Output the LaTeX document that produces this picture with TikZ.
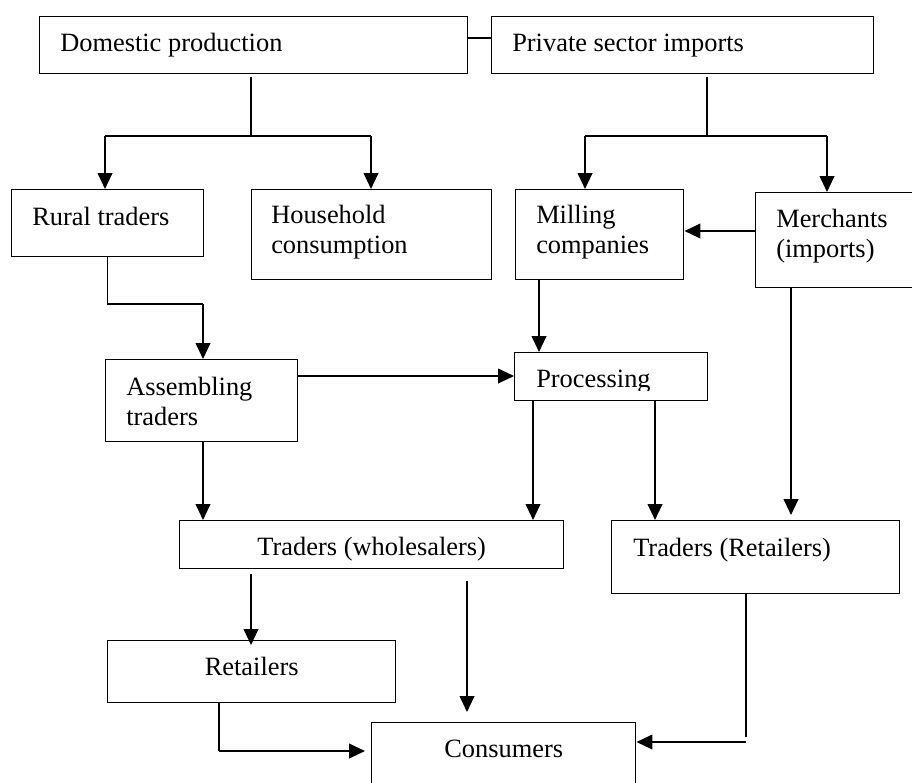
\documentclass[tikz,border=0pt]{standalone}
\usepackage{fontspec}
\setmainfont{Liberation Serif}
\usetikzlibrary{arrows.meta,calc}
\begin{document}
\begin{tikzpicture}[x=0.75pt,y=-0.75pt,
  box/.style={draw,line width=1.1pt,inner sep=0pt,anchor=north west},
  sz/.style 2 args={minimum width=#1*0.75pt,minimum height=#2*0.75pt},
  lbl/.style={inner sep=0pt,anchor=base west,font=\fontsize{19.8pt}{22.5pt}\selectfont},
  clbl/.style={lbl,anchor=base},
  thinline/.style={line width=1pt},
  flow/.style={line width=1.5pt,-{Triangle[length=12pt,width=11pt]}},
]
\useasboundingbox (0,0) rectangle (912,782);
\fill[white] (0,0) rectangle (912,782);
\clip (0,0) rectangle (912,782);

% boxes
\node[box,sz={428}{57}]  (dom)   at (39,16)   {};
\node[box,sz={382}{57}]  (priv)  at (491,16)  {};
\node[box,sz={192}{67}]  (rural) at (11,189)  {};
\node[box,sz={240}{90}]  (house) at (251,189) {};
\node[box,sz={168}{90}]  (mill)  at (515,189) {};
\node[box,sz={170}{95}]  (merch) at (755,192) {};
\node[box,sz={192}{82}]  (asm)   at (105,359) {};
\node[box,sz={193}{48}]  (proc)  at (514,352) {};
\node[box,sz={384}{48}]  (whole) at (179,520) {};
\node[box,sz={288}{73}]  (tret)  at (611,520) {};
\node[box,sz={288}{62}]  (ret)   at (107,640) {};
\node[box,sz={264}{80}]  (cons)  at (371,722) {};

% labels
\node[lbl] (dom-l)   at ($(dom.north west)+(21,35)$)   {Domestic production};
\node[lbl] (priv-l)  at ($(priv.north west)+(21,35)$)  {Private sector imports};
\node[lbl] (rural-l) at ($(rural.north west)+(21,36)$) {Rural traders};
\node[lbl] (house-l) at ($(house.north west)+(20,34)$) {\parbox[t]{200pt}{Household\\consumption}};
\node[lbl] (mill-l)  at ($(mill.north west)+(21,34)$)  {\parbox[t]{140pt}{Milling\\companies}};
\node[lbl] (merch-l) at ($(merch.north west)+(21,35)$) {\parbox[t]{140pt}{Merchants\\(imports)}};
\node[lbl] (asm-l)   at ($(asm.north west)+(21,36)$)   {\parbox[t]{140pt}{Assembling\\traders}};
% the text frame of this box cuts the descender off
\begin{scope}
  \clip (proc.north west) rectangle (proc.east |- 0,390);
  \node[lbl] (proc-l) at ($(proc.north west)+(22,35)$) {Processing};
\end{scope}
\node[clbl] (whole-l) at ($(whole.north)+(0,35)$)      {Traders (wholesalers)};
\node[lbl] (tret-l)  at ($(tret.north west)+(22,36)$)  {Traders (Retailers)};
\node[clbl] (ret-l)  at ($(ret.north)+(0,35)$)         {Retailers};
\node[clbl] (cons-l) at ($(cons.north)+(0,35)$)        {Consumers};

% link between the two sources
\draw[thinline] (dom.east |- 0,38) -- (priv.west |- 0,38);

% domestic production branches
\coordinate (dsplit) at (251,136);
\draw[thinline,shorten <=2.25pt] (dom.south -| dsplit) -- (dsplit);
\draw[thinline] (dsplit -| 105,0) -- (dsplit -| 371,0);
\draw[flow] (dsplit -| 105,0) -- (rural.north -| 105,0);
\draw[flow] (dsplit -| 371,0) -- (house.north -| 371,0);

% private imports branches
\coordinate (psplit) at (707,136);
\draw[thinline,shorten <=2.25pt] (priv.south -| psplit) -- (psplit);
\draw[thinline] (psplit -| 585,0) -- (psplit -| 827,0);
\draw[flow] (psplit -| 585,0) -- (mill.north -| 585,0);
\draw[flow] (psplit -| 827,0) -- (merch.north -| 827,0);

% merchants to milling
\draw[flow] (merch.west |- 0,231) -- (mill.east |- 0,231);

% rural traders to assembling traders
\coordinate (rbend) at (203,304);
\draw[thinline] (rural.south) |- (rbend);
\draw[flow] (rbend) -- (asm.north -| rbend);

% into processing
\draw[flow] (asm.east |- 0,376) -- (proc.west |- 0,376);
\draw[flow] (mill.south -| 539,0) -- (proc.north -| 539,0);

% to the trader level
\draw[flow,shorten >=3.75pt] (merch.south -| 791,0) -- (tret.north -| 791,0);
\draw[flow] (asm.south -| 203,0) -- (whole.north -| 203,0);
\draw[flow] (proc.south -| 533,0) -- (whole.north -| 533,0);
\draw[flow] (proc.south -| 655,0) -- (tret.north -| 655,0);

% to retailers and consumers
\draw[flow,shorten <=3.75pt,shorten >=-3.75pt] (whole.south -| 251,0) -- (ret.north -| 251,0);
\draw[flow,shorten <=9pt,shorten >=7.5pt] (whole.south -| 467,0) -- (cons.north -| 467,0);
\coordinate (rbend2) at (219,751);
\draw[thinline] (ret.south -| rbend2) -- (rbend2);
\draw[flow,shorten >=4.5pt] (rbend2) -- (cons.west |- rbend2);
\coordinate (tbend) at (746,742);
\draw[thinline] (tret.south -| tbend) -- ($(tbend)+(0,-5)$);
\draw[flow] (tbend) -- (cons.east |- tbend);
\end{tikzpicture}
\end{document}
